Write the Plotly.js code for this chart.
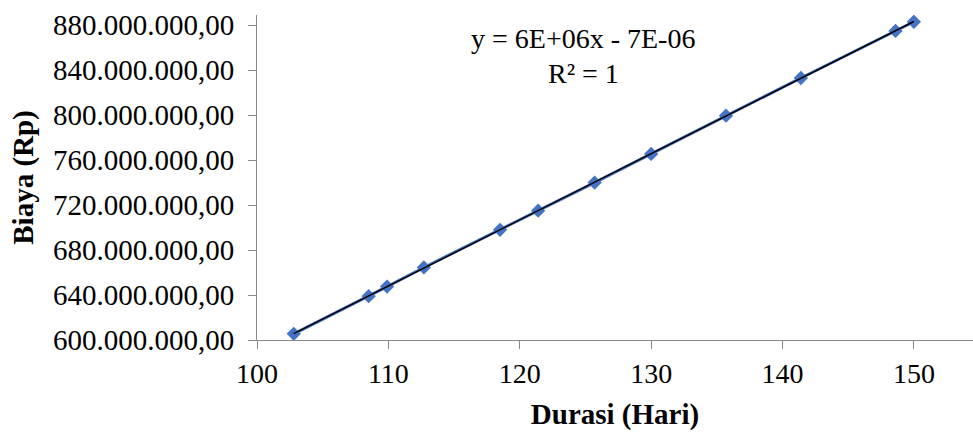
<!DOCTYPE html>
<html>
<head>
<meta charset="utf-8">
<script src="https://cdn.plot.ly/plotly-3.0.1.min.js"></script>
<style>
html,body{margin:0;padding:0;background:#fff;}
#chart{width:973px;height:434px;}
</style>
</head>
<body>
<div id="chart"></div>
<script>
// Data
const durasi = [102.8, 108.5, 109.9, 112.7, 118.5, 121.4, 125.7, 130.0, 135.7, 141.4, 148.6, 150.0];
const biaya  = [605.5e6, 639.0e6, 647.5e6, 664.5e6, 698.0e6, 715.0e6, 740.0e6, 765.5e6, 799.5e6, 833.0e6, 874.8e6, 883.0e6];
const yTickVals = [600e6, 640e6, 680e6, 720e6, 760e6, 800e6, 840e6, 880e6];
const yTickText = ["600.000.000,00","640.000.000,00","680.000.000,00","720.000.000,00","760.000.000,00","800.000.000,00","840.000.000,00","880.000.000,00"];
const xTickVals = [100, 110, 120, 130, 140, 150];
const eqText = "y = 6E+06x - 7E-06";
const r2Text = "R² = 1";

// linear least-squares trendline from the data
const n = durasi.length;
const mx = durasi.reduce((a,b)=>a+b,0)/n;
const my = biaya.reduce((a,b)=>a+b,0)/n;
let sxy=0, sxx=0;
for (let i=0;i<n;i++){ sxy += (durasi[i]-mx)*(biaya[i]-my); sxx += (durasi[i]-mx)**2; }
const slope = sxy/sxx, icpt = my - slope*mx;
const tx = [Math.min(...durasi), Math.max(...durasi)];
const ty = tx.map(v => icpt + slope*v);

const font = "Times New Roman";
const data = [
  {x: durasi, y: biaya, type:'scatter', mode:'lines+markers',
   line:{color:'#4472C4', width:3},
   marker:{symbol:'diamond', size:11, color:'#4472C4'}, hoverinfo:'none'},
  {x: tx, y: ty, type:'scatter', mode:'lines',
   line:{color:'#000000', width:1.5}, hoverinfo:'none'}
];
const layout = {
  width:973, height:434,
  margin:{l:257, r:0, t:15, b:94},
  paper_bgcolor:'#fff', plot_bgcolor:'#fff',
  showlegend:false,
  xaxis:{range:[100,154.5], tickvals:xTickVals, ticks:'outside', ticklen:8, tickcolor:'#898989',
         showline:true, linecolor:'#898989', linewidth:1, showgrid:false, zeroline:false,
         tickfont:{family:font, size:28, color:'#000'}, ticklabelstandoff:0,
         title:{text:'<b>Durasi (Hari)</b>', font:{family:font, size:29, color:'#000'}, standoff:16}},
  yaxis:{range:[600e6, 889e6], tickvals:yTickVals, ticktext:yTickText, ticks:'outside', ticklen:8, tickcolor:'#898989',
         showline:true, linecolor:'#898989', linewidth:1, showgrid:false, zeroline:false,
         tickfont:{family:font, size:29, color:'#000'}, ticklabelstandoff:8,
         title:{text:'<b>Biaya (Rp)</b>', font:{family:font, size:29, color:'#000'}, standoff:10}},
  annotations:[
    {text:eqText, xref:'paper', yref:'paper', x:0.456, y:0.929, xanchor:'center', yanchor:'middle', showarrow:false, font:{family:font, size:28, color:'#000'}},
    {text:r2Text, xref:'paper', yref:'paper', x:0.456, y:0.8215, xanchor:'center', yanchor:'middle', showarrow:false, font:{family:font, size:28, color:'#000'}}
  ]
};
Plotly.newPlot('chart', data, layout, {staticPlot:true, displayModeBar:false});
</script>
</body>
</html>
